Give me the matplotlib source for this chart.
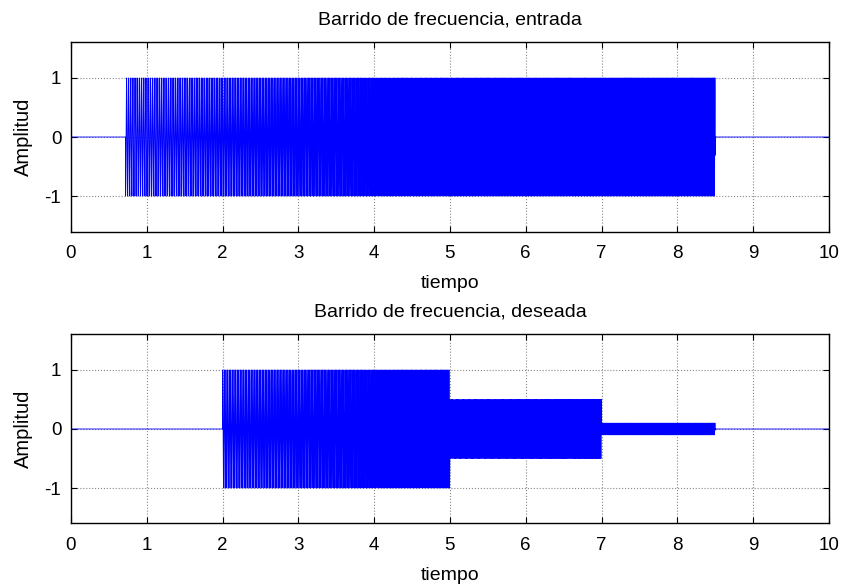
import numpy as np
import matplotlib
matplotlib.use("Agg")
import matplotlib.pyplot as plt

plt.rcParams['font.family'] = ['Liberation Sans', 'DejaVu Sans']

# --- data ---
x_ticks = [0, 1, 2, 3, 4, 5, 6, 7, 8, 9, 10]
y_ticks = [-1, 0, 1]
input_on = 0.72          # sweep start (s)
input_off = 8.5          # sweep end (s)
input_amp = 1.0
seg_start = [2.0, 5.0, 7.0]   # desired-output band edges (s)
seg_end = [5.0, 7.0, 8.5]
seg_amp = [1.0, 0.5, 0.1]
sweep_f0 = 40.0          # sweep start frequency (Hz)
sweep_f1 = 80.0          # sweep end frequency (Hz)
fs = 4000.0              # sampling rate (Hz)
t_end = 10.0

titles = ['Barrido de frecuencia, entrada', 'Barrido de frecuencia, deseada']
xlabel = 'tiempo'
ylabel = 'Amplitud'

# --- signals ---
t = np.arange(0, t_end + 1 / fs, 1 / fs)
T = input_off - input_on
k = (sweep_f1 - sweep_f0) / T
tau = t - input_on
phase = 2 * np.pi * (sweep_f0 * tau + 0.5 * k * tau ** 2) - np.pi / 2
sweep = np.sin(phase)
x_in = np.where((t >= input_on) & (t <= input_off), input_amp * sweep, 0.0)

env = np.zeros_like(t)
for s, e, a in zip(seg_start, seg_end, seg_amp):
    env[(t >= s) & (t < e)] = a
y_des = env * sweep

fig = plt.figure(figsize=(8.44, 5.87), dpi=100)
ax1 = fig.add_axes([0.0841, 0.6056, 0.898, 0.322])
ax2 = fig.add_axes([0.0841, 0.1082, 0.898, 0.322])

for ax, sig, ttl in [(ax1, x_in, titles[0]), (ax2, y_des, titles[1])]:
    ax.plot(t, sig, color='#0000ff', linewidth=0.6)
    ax.set_xlim(0, 10)
    ax.set_ylim(-1.6, 1.6)
    ax.set_xticks(x_ticks)
    ax.set_yticks(y_ticks)
    ax.set_yticklabels([str(v) for v in y_ticks])
    ax.grid(True, color='#888888', linestyle=':', linewidth=0.8)
    ax.tick_params(direction='in', top=True, right=True, labelsize=13.5,
                   length=4)
    ax.tick_params(axis='x', pad=10)
    ax.tick_params(axis='y', pad=7)
    ax.set_title(ttl, fontsize=14, pad=13)
    ax.set_xlabel(xlabel, fontsize=14, labelpad=9)
    ax.set_ylabel(ylabel, fontsize=14.5, labelpad=8)
    for sp in ax.spines.values():
        sp.set_linewidth(1.0)

fig.savefig('out.png', dpi=100)
